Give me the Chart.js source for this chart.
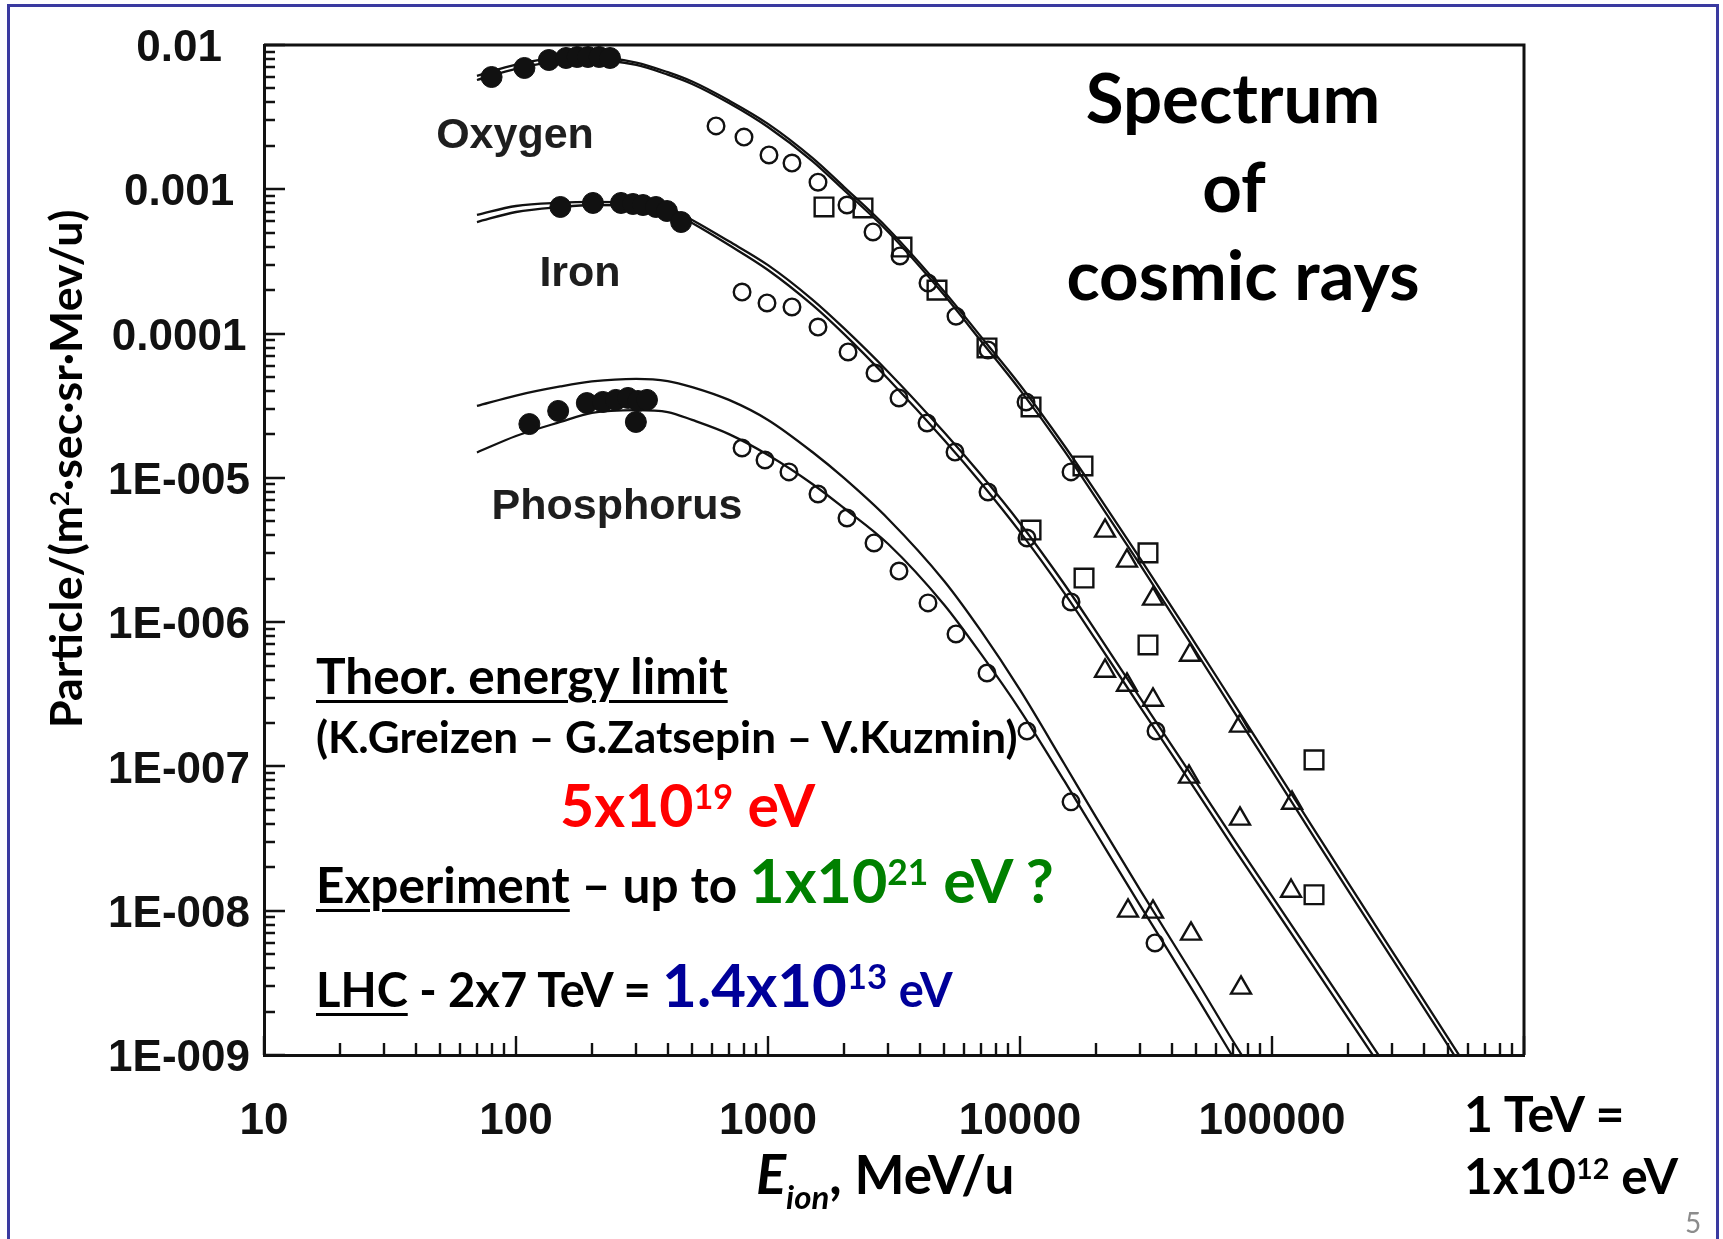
<!DOCTYPE html>
<html>
<head>
<meta charset="utf-8">
<script src="https://cdn.jsdelivr.net/npm/chart.js@4.4.1/dist/chart.umd.min.js"></script>
<style>
html, body { margin: 0; padding: 0; background: #fff; }
#wrap { position: relative; width: 1723px; height: 1239px; overflow: hidden; background: #fff; }
#c { position: absolute; left: 0; top: 0; }
.frame { position: absolute; left: 7px; top: 4px; width: 1712px; height: 1300px; border: 3px solid #3a3aa0; box-sizing: border-box; }
.t { position: absolute; white-space: nowrap; line-height: 1; font-family: Lato, "Open Sans", sans-serif; font-weight: 700; color: #000; }
.lab { position: absolute; white-space: nowrap; line-height: 1; font-family: "Liberation Sans", Arial, sans-serif; font-weight: 700; color: #1e1e1e; font-size: 43px; transform: translateX(-50%); }
.ctr { transform: translateX(-50%); }
.sup { font-size: 0.58em; position: relative; top: -0.52em; }
.u { text-decoration: underline; text-decoration-thickness: 3px; text-underline-offset: 6px; }
</style>
</head>
<body>
<div id="wrap">
  <canvas id="c" width="1723" height="1239" style="width:1723px;height:1239px"></canvas>
  <div class="frame"></div>

  <div class="lab" style="left:515px; top:112px;">Oxygen</div>
  <div class="lab" style="left:580px; top:250px;">Iron</div>
  <div class="lab" style="left:617px; top:483px;">Phosphorus</div>

  <div class="t ctr" style="left:1233px; top:62px; font-size:69px;">Spectrum</div>
  <div class="t ctr" style="left:1234px; top:151px; font-size:69px;">of</div>
  <div class="t ctr" style="left:1243px; top:239px; font-size:69px;">cosmic rays</div>

  <div class="t" style="left:316px; top:651px; font-size:49.5px;"><span class="u">Theor. energy limit</span></div>
  <div class="t" style="left:316px; top:714px; font-size:44px;">(K.Greizen – G.Zatsepin – V.Kuzmin)</div>
  <div class="t" style="left:560px; top:775px; font-size:59px; color:#ff0000;">5x10<span class="sup">19</span> eV</div>
  <div class="t" style="left:316px; top:849px; font-size:61px;"><span style="font-size:49.5px"><span class="u">Experiment</span> – up to </span><span style="color:#008000">1x10<span class="sup">21</span> eV ?</span></div>
  <div class="t" style="left:316px; top:954px; font-size:60px;"><span style="font-size:47px"><span class="u">LHC</span> - 2x7 TeV = </span><span style="color:#000099">1.4x10<span class="sup">13</span><span style="font-size:47px"> eV</span></span></div>

  <div class="t" style="left:1464px; top:1088px; font-size:50px;">1 TeV =</div>
  <div class="t" style="left:1464px; top:1151px; font-size:49.5px;">1x10<span class="sup">12</span> eV</div>

  <div class="t" style="left:756px; top:1145px; font-size:56px;"><i>E</i><span style="font-size:33px; font-style:italic; position:relative; top:15px;">ion</span><span style="font-size:53px">, MeV/u</span></div>

  <div class="t" style="left:43px; top:728px; font-size:44.7px; transform:rotate(-90deg); transform-origin:0 0;">Particle/(m<span class="sup">2</span>·sec·sr·Mev/u)</div>

  <div class="t" style="left:1685px; top:1208px; font-size:28px; font-weight:400; color:#8c8c8c;">5</div>
</div>

<script>
// ---------- axis ticks ----------
const xMajorTicks = [10, 100, 1000, 10000, 100000, 1000000];
const xTickLabels = ['10', '100', '1000', '10000', '100000', ''];
const yMajorTicks = [1e-9, 1e-8, 1e-7, 1e-6, 1e-5, 1e-4, 1e-3, 1e-2];
const yTickLabels = ['1E-009', '1E-008', '1E-007', '1E-006', '1E-005', '0.0001', '0.001', '0.01'];

// ---------- model curves (E in MeV/u, flux in particles/(m2 sec sr MeV/u)) ----------
const oxygenCurveE = [70, 100, 150, 200, 300, 400, 500, 700, 1000, 1500, 2000, 3000, 5000, 7000, 10000, 15000, 20000, 30000, 50000, 70000, 100000, 150000, 200000, 300000, 500000, 600000];
const oxygenModelLow = [5.72e-3, 6.82e-3, 7.75e-3, 7.87e-3, 7.27e-3, 6.23e-3, 5.37e-3, 3.96e-3, 2.70e-3, 1.57e-3, 9.89e-4, 5.06e-4, 1.85e-4, 8.89e-5, 4.07e-5, 1.54e-5, 7.26e-6, 2.49e-6, 6.21e-7, 2.46e-7, 9.30e-8, 3.05e-8, 1.39e-8, 4.63e-9, 1.16e-9, 7.05e-10];
const oxygenModelHigh = [6.12e-3, 7.30e-3, 8.22e-3, 8.26e-3, 7.56e-3, 6.48e-3, 5.58e-3, 4.12e-3, 2.84e-3, 1.65e-3, 1.04e-3, 5.31e-4, 1.96e-4, 9.51e-5, 4.40e-5, 1.67e-5, 7.99e-6, 2.76e-6, 6.96e-7, 2.78e-7, 1.05e-7, 3.45e-8, 1.57e-8, 5.23e-9, 1.31e-9, 7.97e-10];

const ironCurveE = [70, 100, 150, 200, 300, 400, 500, 700, 1000, 1500, 2000, 3000, 5000, 7000, 10000, 15000, 20000, 30000, 50000, 70000, 100000, 150000, 200000, 300000];
const ironModelLow = [5.93e-4, 6.96e-4, 7.54e-4, 7.78e-4, 7.72e-4, 7.19e-4, 5.84e-4, 4.11e-4, 2.76e-4, 1.58e-4, 9.94e-5, 4.84e-5, 1.83e-5, 9.22e-6, 4.22e-6, 1.59e-6, 7.53e-7, 2.58e-7, 6.77e-8, 2.77e-8, 1.10e-8, 3.83e-9, 1.81e-9, 6.3e-10];
const ironModelHigh = [6.64e-4, 7.66e-4, 8.07e-4, 8.17e-4, 8.03e-4, 7.48e-4, 6.13e-4, 4.36e-4, 2.98e-4, 1.72e-4, 1.09e-4, 5.42e-5, 2.07e-5, 1.05e-5, 4.85e-6, 1.83e-6, 8.66e-7, 2.97e-7, 7.78e-8, 3.19e-8, 1.26e-8, 4.4e-9, 2.08e-9, 7.2e-10];

const phosCurveE = [70, 100, 150, 200, 300, 400, 500, 700, 1000, 1500, 2000, 3000, 5000, 7000, 10000, 15000, 20000, 30000, 50000, 70000, 100000];
const phosModelLow = [1.50e-5, 1.95e-5, 2.44e-5, 2.82e-5, 2.95e-5, 2.86e-5, 2.52e-5, 2.01e-5, 1.44e-5, 9.07e-6, 6.18e-6, 3.48e-6, 1.32e-6, 6.02e-7, 2.46e-7, 7.93e-8, 3.47e-8, 1.085e-8, 2.57e-9, 9.7e-10, 3.6e-10];
const phosModelHigh = [3.15e-5, 3.72e-5, 4.30e-5, 4.66e-5, 4.86e-5, 4.69e-5, 4.26e-5, 3.47e-5, 2.52e-5, 1.51e-5, 9.98e-6, 5.19e-6, 1.93e-6, 8.69e-7, 3.39e-7, 1.04e-7, 4.47e-8, 1.39e-8, 3.31e-9, 1.25e-9, 4.66e-10];

// ---------- measured points ----------
const oxygenFilledE = [80, 108, 135, 158, 175, 193, 214, 236];
const oxygenFilledF = [6.00e-3, 6.93e-3, 7.87e-3, 8.13e-3, 8.26e-3, 8.26e-3, 8.26e-3, 8.13e-3];
const ironFilledE = [150, 202, 261, 291, 319, 359, 397, 452];
const ironFilledF = [7.54e-4, 8.04e-4, 8.04e-4, 7.91e-4, 7.78e-4, 7.54e-4, 7.07e-4, 5.93e-4];
const phosFilledE = [113, 147, 191, 221, 249, 278, 305, 331, 299];
const phosFilledF = [2.36e-5, 2.91e-5, 3.30e-5, 3.36e-5, 3.47e-5, 3.58e-5, 3.41e-5, 3.47e-5, 2.44e-5];

const oxygenOpenE = [622, 803, 1009, 1245, 1579, 2058, 2610, 3340, 4314, 5572, 7464, 10565, 15940];
const oxygenOpenF = [2.75e-3, 2.30e-3, 1.73e-3, 1.52e-3, 1.12e-3, 7.78e-4, 5.06e-4, 3.45e-4, 2.24e-4, 1.32e-4, 7.70e-5, 3.36e-5, 1.10e-5];
const ironOpenE = [789, 991, 1245, 1579, 2078, 2658, 3310, 4276, 5522, 7464, 10660, 15940, 34650];
const ironOpenF = [1.94e-4, 1.63e-4, 1.53e-4, 1.11e-4, 7.46e-5, 5.33e-5, 3.58e-5, 2.40e-5, 1.51e-5, 7.99e-6, 3.83e-6, 1.38e-6, 1.76e-7];
const phosOpenE = [789, 973, 1211, 1579, 2058, 2634, 3310, 4314, 5572, 7396, 10660, 15940, 34330];
const phosOpenF = [1.61e-5, 1.33e-5, 1.10e-5, 7.73e-6, 5.27e-6, 3.54e-6, 2.26e-6, 1.36e-6, 8.28e-7, 4.44e-7, 1.76e-7, 5.68e-8, 5.98e-9];

const oxygenSquareE = [1668, 2382, 3402, 4684, 7396, 11060, 17780, 32200, 146800];
const oxygenSquareF = [7.54e-4, 7.42e-4, 3.98e-4, 2.00e-4, 7.95e-5, 3.10e-5, 1.21e-5, 3.02e-6, 1.11e-7];
const ironSquareE = [11060, 17950, 32200, 146800];
const ironSquareF = [4.35e-6, 2.02e-6, 6.95e-7, 1.29e-8];

const oxygenTriangleE = [21750, 26580, 33710, 47270, 74640, 120100];
const oxygenTriangleF = [4.29e-6, 2.66e-6, 1.45e-6, 5.92e-7, 1.91e-7, 5.58e-8];
const ironTriangleE = [21750, 26580, 33710, 46840, 74640, 119000];
const ironTriangleF = [4.59e-7, 3.67e-7, 2.89e-7, 8.46e-8, 4.33e-8, 1.37e-8];
const phosTriangleE = [26830, 33710, 47710, 75340];
const phosTriangleF = [9.97e-9, 9.81e-9, 6.91e-9, 2.92e-9];

// ---------- helpers ----------
function pairs(E, F) { return E.map((e, i) => ({ x: e, y: F[i] })); }
function logTicks(majors) {
  const out = [];
  majors.forEach((m, i) => {
    out.push({ value: m, major: true });
    if (i < majors.length - 1) {
      for (let k = 2; k <= 9; k++) out.push({ value: m * k, major: false });
    }
  });
  return out;
}
function labelFor(value, majors, labels) {
  for (let i = 0; i < majors.length; i++) {
    if (Math.abs(Math.log10(value) - Math.log10(majors[i])) < 1e-6) return labels[i];
  }
  return '';
}

const INK = '#111';
function curve(E, F) {
  return { data: pairs(E, F), showLine: true, borderColor: INK, borderWidth: 2.3, pointRadius: 0,
           cubicInterpolationMode: 'monotone', fill: false, order: 2 };
}
function filled(E, F) {
  return { data: pairs(E, F), showLine: false, pointStyle: 'circle', pointRadius: 10.5,
           backgroundColor: INK, borderColor: INK, borderWidth: 1, order: 1 };
}
function open(E, F, style, r) {
  return { data: pairs(E, F), showLine: false, pointStyle: style, pointRadius: r,
           backgroundColor: 'rgba(0,0,0,0)', borderColor: INK, borderWidth: 2.4, order: 1 };
}

const datasets = [
  curve(oxygenCurveE, oxygenModelLow), curve(oxygenCurveE, oxygenModelHigh),
  curve(ironCurveE, ironModelLow), curve(ironCurveE, ironModelHigh),
  curve(phosCurveE, phosModelLow), curve(phosCurveE, phosModelHigh),
  filled(oxygenFilledE, oxygenFilledF), filled(ironFilledE, ironFilledF), filled(phosFilledE, phosFilledF),
  open(oxygenOpenE, oxygenOpenF, 'circle', 8.3), open(ironOpenE, ironOpenF, 'circle', 8.3), open(phosOpenE, phosOpenF, 'circle', 8.3),
  open(oxygenSquareE, oxygenSquareF, 'rect', 13.2), open(ironSquareE, ironSquareF, 'rect', 13.2),
  open(oxygenTriangleE, oxygenTriangleF, 'triangle', 11.5), open(ironTriangleE, ironTriangleF, 'triangle', 11.5),
  open(phosTriangleE, phosTriangleF, 'triangle', 11.5)
];

// inward tick marks + top/right frame
const innerTicks = {
  id: 'innerTicks',
  afterDatasetsDraw(chart) {
    const { ctx, chartArea: a, scales: { x, y } } = chart;
    ctx.save();
    ctx.strokeStyle = INK;
    ctx.lineWidth = 2.4;
    ctx.beginPath();
    x.ticks.forEach(t => {
      const px = Math.round(x.getPixelForValue(t.value));
      const len = t.major ? 19 : 12;
      ctx.moveTo(px, a.bottom); ctx.lineTo(px, a.bottom - len);
    });
    y.ticks.forEach(t => {
      const py = Math.round(y.getPixelForValue(t.value));
      const len = t.major ? 21 : 11;
      ctx.moveTo(a.left, py); ctx.lineTo(a.left + len, py);
    });
    ctx.stroke();
    ctx.lineWidth = 3;
    ctx.beginPath();
    ctx.moveTo(a.left, a.top); ctx.lineTo(a.right, a.top); ctx.lineTo(a.right, a.bottom);
    ctx.stroke();
    ctx.restore();
  }
};

const tickFont = { family: '"Liberation Sans", Arial, sans-serif', size: 44, weight: 'bold' };

new Chart(document.getElementById('c'), {
  type: 'scatter',
  data: { datasets },
  options: {
    responsive: false,
    animation: false,
    events: [],
    layout: { padding: { left: 0, top: 45, right: 199, bottom: 0 } },
    plugins: { legend: { display: false }, tooltip: { enabled: false } },
    scales: {
      x: {
        type: 'logarithmic', position: 'bottom', min: 10, max: 1000000,
        afterFit: s => { s.height = 184; },
        afterBuildTicks: s => { s.ticks = logTicks(xMajorTicks); },
        ticks: { autoSkip: false, maxRotation: 0, minRotation: 0, padding: 40, color: INK, font: tickFont,
                 callback: v => labelFor(v, xMajorTicks, xTickLabels) },
        grid: { drawOnChartArea: false, drawTicks: false },
        border: { display: true, color: INK, width: 3 }
      },
      y: {
        type: 'logarithmic', position: 'left', min: 1e-9, max: 1e-2,
        afterFit: s => { s.width = 264; },
        afterBuildTicks: s => { s.ticks = logTicks(yMajorTicks); },
        ticks: { autoSkip: false, padding: 14, labelOffset: 4, crossAlign: 'center', color: INK, font: tickFont,
                 callback: v => labelFor(v, yMajorTicks, yTickLabels) },
        grid: { drawOnChartArea: false, drawTicks: false },
        border: { display: true, color: INK, width: 3 }
      }
    }
  },
  plugins: [innerTicks]
});
</script>
</body>
</html>
